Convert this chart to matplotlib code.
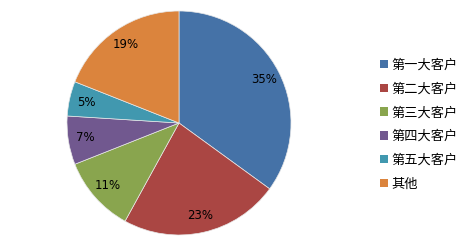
import matplotlib
matplotlib.use("Agg")
import matplotlib.pyplot as plt
from matplotlib.patches import Patch

plt.rcParams['font.family'] = ['Noto Sans CJK SC', 'DejaVu Sans']

# data
labels = ["第一大客户", "第二大客户", "第三大客户", "第四大客户", "第五大客户", "其他"]
shares = [35, 23, 11, 7, 5, 19]
colors = ["#4572A7", "#AA4643", "#89A54E", "#71588F", "#4198AF", "#DB843D"]

W, H = 463, 242
fig = plt.figure(figsize=(W / 100, H / 100), dpi=100)

# pie centred at (179, 123) px, radius 112 px
cx, cy, r = 179, 123, 112
ax = fig.add_axes([(cx - r) / W, (H - cy - r) / H, 2 * r / W, 2 * r / H])
wedges, texts, autotexts = ax.pie(
    shares, colors=colors, startangle=90, counterclock=False,
    autopct="%d%%", pctdistance=0.85,
    wedgeprops=dict(edgecolor="#e8e8e8", linewidth=0.5),
    textprops=dict(fontsize=8.5, color="black", family=["DejaVu Sans"]),
)
ax.set_xlim(-1, 1)
ax.set_ylim(-1, 1)
ax.set_aspect("equal")

handles = [Patch(facecolor=c, edgecolor="none") for c in colors]
fig.legend(handles, labels, loc="upper left", bbox_to_anchor=(373 / W, 1 - 52 / H),
           frameon=False, fontsize=9.5, handlelength=0.6, handleheight=0.6,
           handletextpad=0.3, labelspacing=0.82, borderpad=0)

fig.savefig("out.png", dpi=100)
